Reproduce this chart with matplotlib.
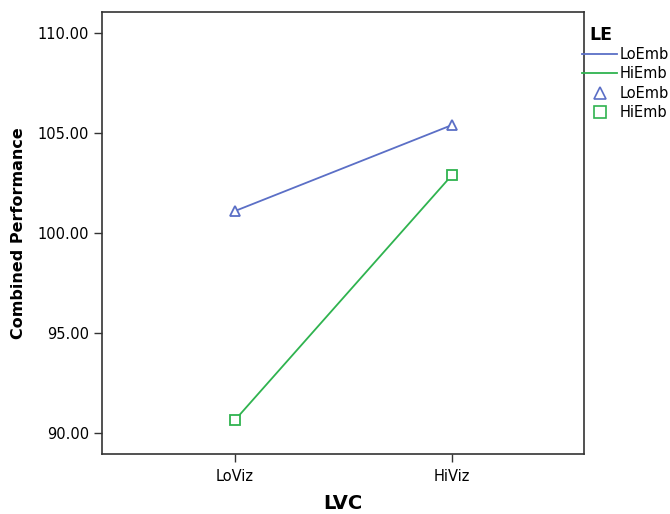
import matplotlib.pyplot as plt
from matplotlib.lines import Line2D

# Data
lvc_levels = ["LoViz", "HiViz"]
le_levels = ["LoEmb", "HiEmb"]
lo_emb = [101.1, 105.4]
hi_emb = [90.65, 102.9]
y_ticks = [90, 95, 100, 105, 110]

colors = {"LoEmb": "#5b6fc6", "HiEmb": "#2fb34f"}
markers = {"LoEmb": "^", "HiEmb": "s"}
series = {"LoEmb": lo_emb, "HiEmb": hi_emb}

fig = plt.figure(figsize=(6.7, 5.14), dpi=100)
ax = fig.add_axes([102 / 670, 1 - 454 / 514, 482 / 670, 442 / 514])

x = list(range(len(lvc_levels)))
for name in le_levels:
    ax.plot(x, series[name], color=colors[name], linewidth=1.3, zorder=2)
    ax.plot(x, series[name], linestyle="none", marker=markers[name],
            markersize=7.5, markerfacecolor="white", markeredgecolor=colors[name],
            markeredgewidth=1.3, zorder=3)

ax.set_xlim(-0.613, 1.608)
ax.set_ylim(88.95, 111.05)
ax.set_xticks(x)
ax.set_xticklabels(lvc_levels, fontsize=10.5)
ax.set_yticks(y_ticks)
ax.set_yticklabels([f"{v:.2f}" for v in y_ticks], fontsize=10.5)
ax.tick_params(direction="out", length=6, width=1, color="#333333")
ax.tick_params(axis="x", pad=5)
for s in ax.spines.values():
    s.set_color("#333333")
    s.set_linewidth(1.2)

ax.set_xlabel("LVC", fontsize=14, fontweight="bold", labelpad=7)
ax.set_ylabel("Combined Performance", fontsize=11.5, fontweight="bold", labelpad=8)

# legend title placed by hand, entries below it
fig.text(589 / 670, 1 - 35 / 514, "LE", fontsize=12.5, fontweight="bold",
         ha="left", va="center")
handles = [Line2D([], [], color=colors[n], linewidth=1.3) for n in le_levels]
handles += [Line2D([], [], linestyle="none", marker=markers[n], markersize=8,
                   markerfacecolor="white", markeredgecolor=colors[n],
                   markeredgewidth=1.2) for n in le_levels]
fig.legend(handles, le_levels + le_levels, loc="upper left",
           bbox_to_anchor=(582 / 670, 1 - 47 / 514), frameon=False,
           fontsize=10.5, handlelength=2.4, handletextpad=0.15,
           labelspacing=0.3, borderaxespad=0, borderpad=0)

fig.savefig("out.png", dpi=100)
